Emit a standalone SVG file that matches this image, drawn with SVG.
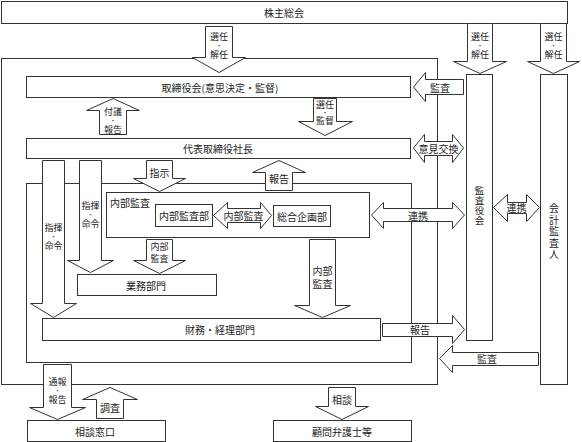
<svg xmlns="http://www.w3.org/2000/svg" width="582" height="442" viewBox="0 0 582 442">
<style>
.b{fill:#fff;stroke:#333;stroke-width:1}
.f{fill:none;stroke:#333;stroke-width:1}
.a{fill:#fff;stroke:#333;stroke-width:1;stroke-linejoin:miter}
text{font-family:"Noto Sans CJK JP","Noto Sans CJK SC",sans-serif;font-size:10px;fill:#222;text-anchor:middle;dominant-baseline:central}
tspan{dominant-baseline:central}
.s{font-size:9px}
.d{font-size:6px}
.v{font-size:9.5px}
.l{text-anchor:start}
</style>
<rect width="582" height="442" fill="#fff"/>
<g id="frames">
<rect id="outer" class="f" x="1.5" y="58.5" width="436" height="326"/>
<rect id="mid" class="f" x="26.5" y="183.5" width="385" height="179"/>
</g>
<g id="n-kabunushi"><rect class="b" x="1.5" y="1.5" width="566" height="22"/><text x="284" y="12.5">株主総会</text></g>
<g id="n-torishimariyakukai"><rect class="b" x="26.5" y="76.5" width="384" height="21"/><text x="220" y="87">取締役会(意思決定・監督)</text></g>
<g id="n-shacho"><rect class="b" x="26.5" y="138.5" width="384" height="20"/><text x="218" y="148.5">代表取締役社長</text></g>
<g id="n-kansayakukai"><rect class="b" x="466.5" y="74.5" width="26" height="266"/>
<text class="v" x="479.5" y="190"><tspan x="479.5" y="190">監</tspan><tspan x="479.5" y="200">査</tspan><tspan x="479.5" y="210">役</tspan><tspan x="479.5" y="220">会</tspan></text></g>
<g id="n-kaikeikansanin"><rect class="b" x="540.5" y="74.5" width="27" height="310"/>
<text x="554" y="207"><tspan x="554" y="207">会</tspan><tspan x="554" y="218.5">計</tspan><tspan x="554" y="230">監</tspan><tspan x="554" y="241.5">査</tspan><tspan x="554" y="253">人</tspan></text></g>
<g id="n-naibukansa"><rect class="b" x="106.5" y="192.5" width="263" height="45"/><text class="l" x="110" y="202">内部監査</text></g>
<g id="n-naibukansabu"><rect class="b" x="155.5" y="204.5" width="57" height="22"/><text x="184" y="215.5">内部監査部</text></g>
<g id="n-sogokikakubu"><rect class="b" x="273.5" y="205.5" width="57" height="21"/><text x="302" y="216">総合企画部</text></g>
<g id="n-gyomu"><rect class="b" x="77.5" y="274.5" width="139" height="21"/><text x="146" y="285">業務部門</text></g>
<g id="n-zaimu"><rect class="b" x="42.5" y="318.5" width="338" height="22"/><text x="220" y="329.5">財務・経理部門</text></g>
<g id="n-sodanmadoguchi"><rect class="b" x="27.5" y="420.5" width="138" height="21"/><text x="95" y="431">相談窓口</text></g>
<g id="n-komonbengoshi"><rect class="b" x="273.5" y="420.5" width="138" height="21"/><text x="342" y="431">顧問弁護士等</text></g>
<g id="connectors">
<polygon class="a" points="205.5,26.5 232.5,26.5 232.5,57.5 245.5,57.5 219,72.5 192.5,57.5 205.5,57.5"/>
<text class="s" x="219" y="36"><tspan x="219" y="36">選任</tspan><tspan class="d" x="219" y="45">・</tspan><tspan x="219" y="54">解任</tspan></text>
<polygon class="a" points="467.5,23.5 492.5,23.5 492.5,61.5 506.5,61.5 480,73.5 453.5,61.5 467.5,61.5"/>
<text class="s" x="480" y="36"><tspan x="480" y="36">選任</tspan><tspan class="d" x="480" y="45">・</tspan><tspan x="480" y="54">解任</tspan></text>
<polygon class="a" points="540.5,23.5 566.5,23.5 566.5,61.5 579.5,61.5 553.5,73.5 527.5,61.5 540.5,61.5"/>
<text class="s" x="553.5" y="36"><tspan x="553.5" y="36">選任</tspan><tspan class="d" x="553.5" y="45">・</tspan><tspan x="553.5" y="54">解任</tspan></text>
<polygon class="a" points="463.5,79.5 425.5,79.5 425.5,72.5 413.5,87 425.5,101.5 425.5,94.5 463.5,94.5"/>
<text x="440" y="87">監査</text>
<polygon class="a" points="99.5,134.5 126.5,134.5 126.5,110.5 139.5,110.5 113,98.5 86.5,110.5 99.5,110.5"/>
<text class="s" x="113" y="111"><tspan x="113" y="111">付議</tspan><tspan class="d" x="113" y="120">・</tspan><tspan x="113" y="129">報告</tspan></text>
<polygon class="a" points="313.5,98.5 336.5,98.5 336.5,121.5 352.5,121.5 325,135.5 298.5,121.5 313.5,121.5"/>
<text class="s" x="325" y="104"><tspan x="325" y="104">選任</tspan><tspan class="d" x="325" y="112">・</tspan><tspan x="325" y="120">監督</tspan></text>
<polygon class="a" points="413.5,148 424.5,134.5 424.5,141.5 452.5,141.5 452.5,134.5 463.5,148 452.5,162.5 452.5,155.5 424.5,155.5 424.5,162.5"/>
<text x="438.5" y="148">意見交換</text>
<polygon class="a" points="42.5,160.5 64.5,160.5 64.5,303.5 76.5,303.5 53.5,317.5 30.5,303.5 42.5,303.5"/>
<text class="s" x="53.5" y="227"><tspan x="53.5" y="227">指揮</tspan><tspan class="d" x="53.5" y="236">・</tspan><tspan x="53.5" y="245">命令</tspan></text>
<polygon class="a" points="79.5,160.5 101.5,160.5 101.5,260.5 113.5,260.5 90.5,272.5 67.5,260.5 79.5,260.5"/>
<text class="s" x="90.5" y="205"><tspan x="90.5" y="205">指揮</tspan><tspan class="d" x="90.5" y="214">・</tspan><tspan x="90.5" y="223">命令</tspan></text>
<polygon class="a" points="146.5,160.5 172.5,160.5 172.5,178.5 185.5,178.5 159.5,191.5 133.5,178.5 146.5,178.5"/>
<text x="159.5" y="172">指示</text>
<polygon class="a" points="265.5,190.5 292.5,190.5 292.5,172.5 305.5,172.5 279,160.5 252.5,172.5 265.5,172.5"/>
<text x="279" y="178">報告</text>
<polygon class="a" points="213.5,215.5 227.5,202.5 227.5,208.5 260.5,208.5 260.5,202.5 271.5,215.5 260.5,228.5 260.5,222.5 227.5,222.5 227.5,228.5"/>
<text x="243.5" y="215.5">内部監査</text>
<polygon class="a" points="371.5,215 383.5,202.5 383.5,208.5 452.5,208.5 452.5,202.5 464.5,215 452.5,228.5 452.5,221.5 383.5,221.5 383.5,228.5"/>
<text x="418" y="215">連携</text>
<polygon class="a" points="493.5,207.5 507.5,194.5 507.5,202.5 526.5,202.5 526.5,194.5 539.5,207.5 526.5,221.5 526.5,213.5 507.5,213.5 507.5,221.5"/>
<text x="516.5" y="207.5">連携</text>
<polygon class="a" points="146.5,239.5 172.5,239.5 172.5,260.5 185.5,260.5 159.5,273.5 133.5,260.5 146.5,260.5"/>
<text class="s" x="159.5" y="246"><tspan x="159.5" y="246">内部</tspan><tspan x="159.5" y="258">監査</tspan></text>
<polygon class="a" points="309.5,239.5 335.5,239.5 335.5,305.5 350.5,305.5 322.5,317.5 294.5,305.5 309.5,305.5"/>
<text x="322.5" y="270"><tspan x="322.5" y="270">内部</tspan><tspan x="322.5" y="283">監査</tspan></text>
<polygon class="a" points="382.5,323.5 452.5,323.5 452.5,315.5 464.5,329.5 452.5,343.5 452.5,336.5 382.5,336.5"/>
<text x="420" y="329.5">報告</text>
<polygon class="a" points="538.5,352.5 452.5,352.5 452.5,345.5 439.5,358.5 452.5,372.5 452.5,365.5 538.5,365.5"/>
<text x="487" y="358.5">監査</text>
<polygon class="a" points="43.5,364.5 71.5,364.5 71.5,407.5 85.5,407.5 57.5,419.5 29.5,407.5 43.5,407.5"/>
<text class="s" x="57.5" y="381"><tspan x="57.5" y="381">通報</tspan><tspan class="d" x="57.5" y="390">・</tspan><tspan x="57.5" y="399">報告</tspan></text>
<polygon class="a" points="96.5,418.5 123.5,418.5 123.5,399.5 137.5,399.5 110,387.5 82.5,399.5 96.5,399.5"/>
<text x="110" y="407">調査</text>
<polygon class="a" points="328.5,387.5 355.5,387.5 355.5,406.5 368.5,406.5 342,419.5 315.5,406.5 328.5,406.5"/>
<text x="342" y="399">相談</text>
</g>
</svg>
